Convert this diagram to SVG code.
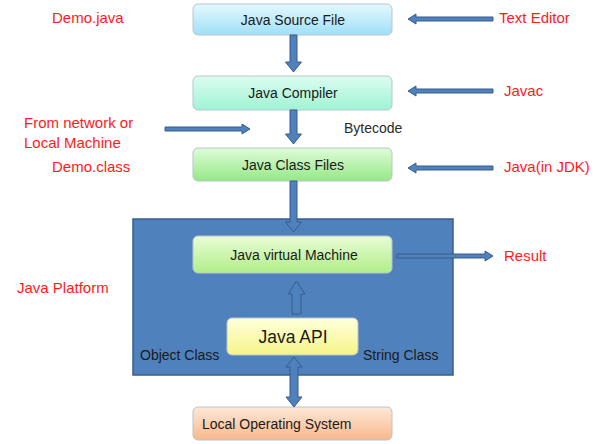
<svg xmlns="http://www.w3.org/2000/svg" width="597" height="444" viewBox="0 0 597 444">
<style>
.box{stroke:#b8c4cc;stroke-width:1}
.t{font-family:"Liberation Sans",Arial,sans-serif;font-size:14px;fill:#1a1a1a}
.r{font-family:"Liberation Sans",Arial,sans-serif;font-size:15px;fill:#ff1a1a}
.arr{fill:#4f81bd;stroke:#385d8a;stroke-width:1}
</style>
<defs>
<linearGradient id="gSrc" x1="0" y1="0" x2="0" y2="1"><stop offset="0" stop-color="#e4f8fe"/><stop offset="1" stop-color="#9fe0f7"/></linearGradient>
<linearGradient id="gCmp" x1="0" y1="0" x2="0" y2="1"><stop offset="0" stop-color="#dcfcf0"/><stop offset="1" stop-color="#9ff3d5"/></linearGradient>
<linearGradient id="gCls" x1="0" y1="0" x2="0" y2="1"><stop offset="0" stop-color="#dffcd8"/><stop offset="1" stop-color="#95e887"/></linearGradient>
<linearGradient id="gJvm" x1="0" y1="0" x2="0" y2="1"><stop offset="0" stop-color="#e9fcd6"/><stop offset="1" stop-color="#b0ee88"/></linearGradient>
<linearGradient id="gApi" x1="0" y1="0" x2="0" y2="1"><stop offset="0" stop-color="#ffffdc"/><stop offset="1" stop-color="#f5f588"/></linearGradient>
<linearGradient id="gOs" x1="0" y1="0" x2="0" y2="1"><stop offset="0" stop-color="#fde8d8"/><stop offset="1" stop-color="#f8b88c"/></linearGradient>
</defs>
<rect width="597" height="444" fill="#ffffff"/>

<g id="platform">
<rect x="133" y="219" width="320" height="156" fill="#4f81bd" stroke="#385d8a" stroke-width="1.5"/>
<text class="t" x="140" y="360">Object Class</text>
<text class="t" x="363" y="360">String Class</text>
</g>

<g id="source">
<rect class="box" x="193" y="4" width="199" height="31" rx="5" fill="url(#gSrc)"/>
<text class="t" x="293" y="24.5" text-anchor="middle">Java Source File</text>
</g>
<g id="compiler">
<rect class="box" x="193" y="76" width="199" height="34" rx="5" fill="url(#gCmp)"/>
<text class="t" x="293" y="98" text-anchor="middle">Java Compiler</text>
</g>
<g id="classfiles">
<rect class="box" x="193" y="148" width="199" height="33" rx="5" fill="url(#gCls)"/>
<text class="t" x="293" y="169.5" text-anchor="middle">Java Class Files</text>
</g>
<g id="jvm">
<rect class="box" x="193" y="236" width="199" height="37" rx="5" fill="url(#gJvm)"/>
<text class="t" x="294" y="259.5" text-anchor="middle">Java virtual Machine</text>
</g>
<g id="api">
<rect class="box" x="227" y="318" width="131" height="37" rx="5" fill="url(#gApi)"/>
<text class="t" x="293" y="342.5" text-anchor="middle" style="font-size:17.5px">Java API</text>
</g>
<g id="os">
<rect class="box" x="193" y="407" width="199" height="33" rx="5" fill="url(#gOs)"/>
<text class="t" x="202" y="428.5">Local Operating System</text>
</g>

<g id="labels">
<text class="r" x="52" y="23">Demo.java</text>
<text class="r" x="24" y="128">From network or</text>
<text class="r" x="24" y="148">Local Machine</text>
<text class="r" x="52" y="172">Demo.class</text>
<text class="r" x="17" y="293">Java Platform</text>
<text class="r" x="499" y="23">Text Editor</text>
<text class="r" x="504" y="96">Javac</text>
<text class="r" x="504" y="172">Java(in JDK)</text>
<text class="r" x="504" y="261">Result</text>
<text class="t" x="344" y="133" style="fill:#2a2a2a">Bytecode</text>
</g>

<g id="connectors">
<polygon class="arr" points="290,35 297,35 297,62 301.5,62 293.5,72 285.5,62 290,62"/>
<polygon class="arr" points="290,110 297,110 297,134 301.5,134 293.5,144 285.5,134 290,134"/>
<polygon class="arr" points="290,181 297,181 297,222 301.5,222 293.5,232 285.5,222 290,222"/>
<polygon class="arr" points="296.5,281 305,294 301,294 301,314 292,314 292,294 288,294" stroke-width="1.2"/>
<polygon class="arr" points="294,357 302,367 298,367 298,397 302,397 294,407 286,397 290,397 290,367 286,367"/>
<polygon class="arr" points="408,19 416,14 416,17 493,17 493,21 416,21 416,24"/>
<polygon class="arr" points="408,91 416,86 416,89 493,89 493,93 416,93 416,96"/>
<polygon class="arr" points="408,168 416,163 416,166 493,166 493,170 416,170 416,173"/>
<polygon class="arr" points="250,129 242,124 242,127 165,127 165,131 242,131 242,134"/>
<polygon class="arr" points="493,256 485,251 485,254 397,254 397,258 485,258 485,261"/>
</g>
</svg>
